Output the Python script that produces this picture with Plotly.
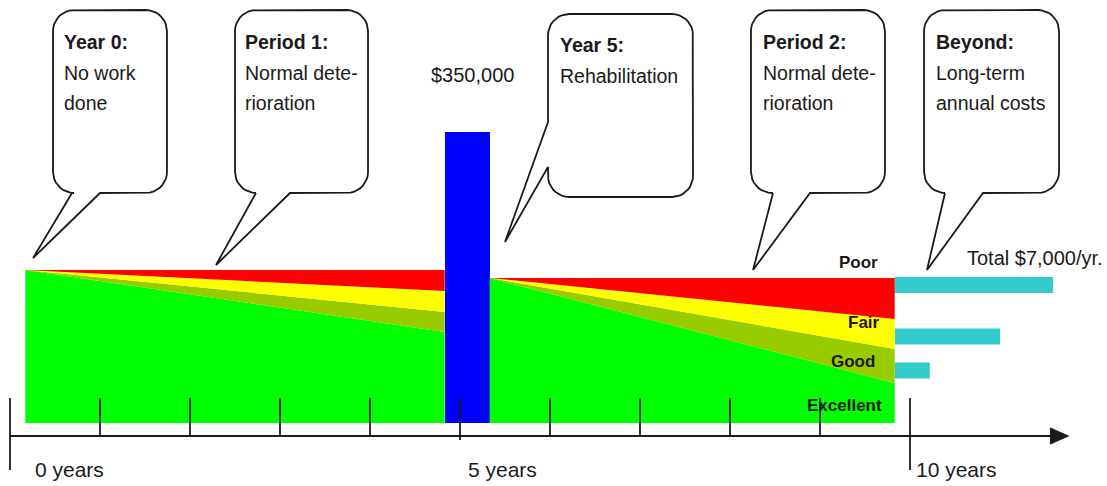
import numpy as np
import plotly.graph_objects as go

# ---------------- data ----------------
# x axis: years ; y axis: schematic condition/height units
tick_years = [0, 1, 2, 3, 4, 5, 6, 7, 8, 9, 10]
tick_bottom = [-34, 0, 0, 0, 0, -4, 0, 0, 0, 0, -34]
tick_top = 38
axis_labels = ["0 years", "5 years", "10 years"]
axis_label_x = [0.256, 5.067, 10.044]
axis_label_y = -33
axis_end = 11.58
arrow_tip = 11.76

band_names = ["Poor", "Fair", "Good", "Excellent"]
band_colors = ["#FF0000", "#FFFF00", "#99CC00", "#00FF00"]

# period 1: normal deterioration from year 0
p1_years = [0.17, 4.83]
p1_start = 166
p1_end_bounds = [166, 145, 124, 104, 13]   # top, poor|fair, fair|good, good|excellent, bottom
# period 2: normal deterioration after rehabilitation
p2_years = [5.33, 9.83]
p2_start = 158
p2_end_bounds = [158, 117, 87, 53, 13]

# rehabilitation cost bar
rehab_year = [5.083]
rehab_width = [0.5]
rehab_base = [13]
rehab_height = [291]
rehab_label = "$350,000"
rehab_label_pos = (5.144, 361)

# long-term annual cost bars
annual_start = 9.83
annual_lengths = [1.76, 1.17, 0.39]
annual_levels = [151, 99.5, 65.5]
annual_label = "Total $7,000/yr."
annual_label_pos = (10.611, 178)

condition_label_x = [9.667, 9.689, 9.633, 9.711]
condition_label_y = [174, 114, 75, 31]

# callouts
callout_titles = ["Year 0:", "Period 1:", "Year 5:", "Period 2:", "Beyond:"]
callout_bodies = [["No work", "done"], ["Normal dete-", "rioration"], ["Rehabilitation"],
                  ["Normal dete-", "rioration"], ["Long-term", "annual costs"]]
box_left = [0.478, 2.5, 5.978, 8.233, 10.156]
box_right = [1.744, 3.978, 7.589, 9.722, 11.656]
box_top = [426, 426, 422, 426, 426]
box_bottom = [243, 243, 239, 243, 243]
tail_side = ["bottom", "bottom", "left", "bottom", "bottom"]
tail_a = [0.689, 2.733, 314, 8.478, 10.389]
tail_b = [1.0, 3.111, 269, 8.889, 10.811]
tip_x = [0.256, 2.289, 5.5, 8.256, 10.189]
tip_y = [178, 171, 194, 166, 166]
text_x = [0.578, 2.589, 6.089, 8.344, 10.267]
text_first_y = [394, 394, 391, 394, 394]
line_step = 30.5

# ---------------- figure ----------------
W, H = 1107, 486
XR = [-0.1111, 12.1889]
YR = [-50, 436]
PX_PER_YEAR = W / (XR[1] - XR[0])
PX_PER_UNIT = H / (YR[1] - YR[0])
FONT = "Liberation Sans, Arial, sans-serif"
INK = "#1a1a1a"

fig = go.Figure()


def add_period(xs, start, bounds):
    top, rb, yb, ob, bot = bounds
    lines = [[bot, bot], [start, ob], [start, yb], [start, rb], [start, top]]
    fills = [None, band_colors[3], band_colors[2], band_colors[1], band_colors[0]]
    for ys, fc in zip(lines, fills):
        fig.add_trace(go.Scatter(
            x=xs, y=ys, mode="lines", line=dict(width=0),
            fill="tonexty" if fc else "none", fillcolor=fc,
            hoverinfo="skip", showlegend=False))


add_period(p1_years, p1_start, p1_end_bounds)
add_period(p2_years, p2_start, p2_end_bounds)

# rehab bar
fig.add_trace(go.Bar(x=rehab_year, y=rehab_height, base=rehab_base, width=rehab_width,
                     marker=dict(color="#0000FF", line=dict(width=0)),
                     showlegend=False, hoverinfo="skip"))
# annual bars
fig.add_trace(go.Bar(y=annual_levels, x=annual_lengths, base=annual_start, orientation="h",
                     width=[16] * len(annual_levels),
                     marker=dict(color="#33CCCC", line=dict(width=0)),
                     showlegend=False, hoverinfo="skip"))

# axis line + arrow
fig.add_trace(go.Scatter(x=[0, axis_end], y=[0, 0], mode="lines",
                         line=dict(color=INK, width=2), hoverinfo="skip", showlegend=False, zorder=5))
fig.add_trace(go.Scatter(x=[axis_end - 0.02, arrow_tip, axis_end - 0.02, axis_end - 0.02],
                         y=[8, 0, -8, 8], mode="lines", fill="toself", fillcolor=INK,
                         line=dict(color=INK, width=1), hoverinfo="skip", showlegend=False, zorder=5))
# ticks
tx, ty = [], []
for t, b in zip(tick_years, tick_bottom):
    tx += [t, t, None]
    ty += [b, tick_top, None]
fig.add_trace(go.Scatter(x=tx, y=ty, mode="lines", line=dict(color=INK, width=1.8),
                         hoverinfo="skip", showlegend=False, zorder=6))


# callouts
def arc(cx, cy, a0, a1, rx, ry, n=10):
    t = np.radians(np.linspace(a0, a1, n))
    return list(cx + rx * np.cos(t)), list(cy + ry * np.sin(t))


R = 21
rx = R / PX_PER_YEAR
ry = R / PX_PER_UNIT
for i in range(len(callout_titles)):
    x0, x1, yt, yb = box_left[i], box_right[i], box_top[i], box_bottom[i]
    xs, ys = [], []
    if tail_side[i] == "bottom":
        xs += [tail_a[i], tip_x[i], tail_b[i]]
        ys += [yb, tip_y[i], yb]
        for (cx, cy, a0, a1) in [(x1 - rx, yb + ry, -90, 0), (x1 - rx, yt - ry, 0, 90),
                                 (x0 + rx, yt - ry, 90, 180), (x0 + rx, yb + ry, 180, 270)]:
            ax_, ay_ = arc(cx, cy, a0, a1, rx, ry)
            xs += ax_
            ys += ay_
        xs.append(tail_a[i])
        ys.append(yb)
    else:
        xs += [x0, tip_x[i], x0]
        ys += [tail_a[i], tip_y[i], tail_b[i]]
        for (cx, cy, a0, a1) in [(x0 + rx, yb + ry, 180, 270), (x1 - rx, yb + ry, -90, 0),
                                 (x1 - rx, yt - ry, 0, 90), (x0 + rx, yt - ry, 90, 180)]:
            ax_, ay_ = arc(cx, cy, a0, a1, rx, ry)
            xs += ax_
            ys += ay_
        xs.append(x0)
        ys.append(tail_a[i])
    fig.add_trace(go.Scatter(x=xs, y=ys, mode="lines", fill="toself", fillcolor="white",
                             line=dict(color=INK, width=1.8), hoverinfo="skip",
                             showlegend=False, zorder=7))

annotations = []
for i in range(len(callout_titles)):
    lines = ["<b>" + callout_titles[i] + "</b>"] + callout_bodies[i]
    for k, ln in enumerate(lines):
        annotations.append(dict(x=text_x[i], y=text_first_y[i] - k * line_step, text=ln,
                                xanchor="left", yanchor="middle", showarrow=False,
                                font=dict(family=FONT, size=19.5, color=INK)))
for lab, lx in zip(axis_labels, axis_label_x):
    annotations.append(dict(x=lx, y=axis_label_y, text=lab, xanchor="left", yanchor="middle",
                            showarrow=False, font=dict(family=FONT, size=21, color=INK)))
annotations.append(dict(x=rehab_label_pos[0], y=rehab_label_pos[1], text=rehab_label,
                        xanchor="center", yanchor="middle", showarrow=False,
                        font=dict(family=FONT, size=20, color=INK)))
annotations.append(dict(x=annual_label_pos[0], y=annual_label_pos[1], text=annual_label,
                        xanchor="left", yanchor="middle", showarrow=False,
                        font=dict(family=FONT, size=20, color=INK)))
for lab, lx, ly in zip(band_names, condition_label_x, condition_label_y):
    annotations.append(dict(x=lx, y=ly, text="<b>" + lab + "</b>", xanchor="right",
                            yanchor="middle", showarrow=False,
                            font=dict(family=FONT, size=17, color=INK)))

fig.update_layout(
    width=W, height=H, autosize=False,
    margin=dict(l=0, r=0, t=0, b=0, pad=0),
    paper_bgcolor="white", plot_bgcolor="white",
    barmode="overlay", showlegend=False,
    xaxis=dict(range=XR, visible=False, fixedrange=True),
    yaxis=dict(range=YR, visible=False, fixedrange=True),
    annotations=annotations,
)

fig.write_html("out.html", config={"displayModeBar": False})
